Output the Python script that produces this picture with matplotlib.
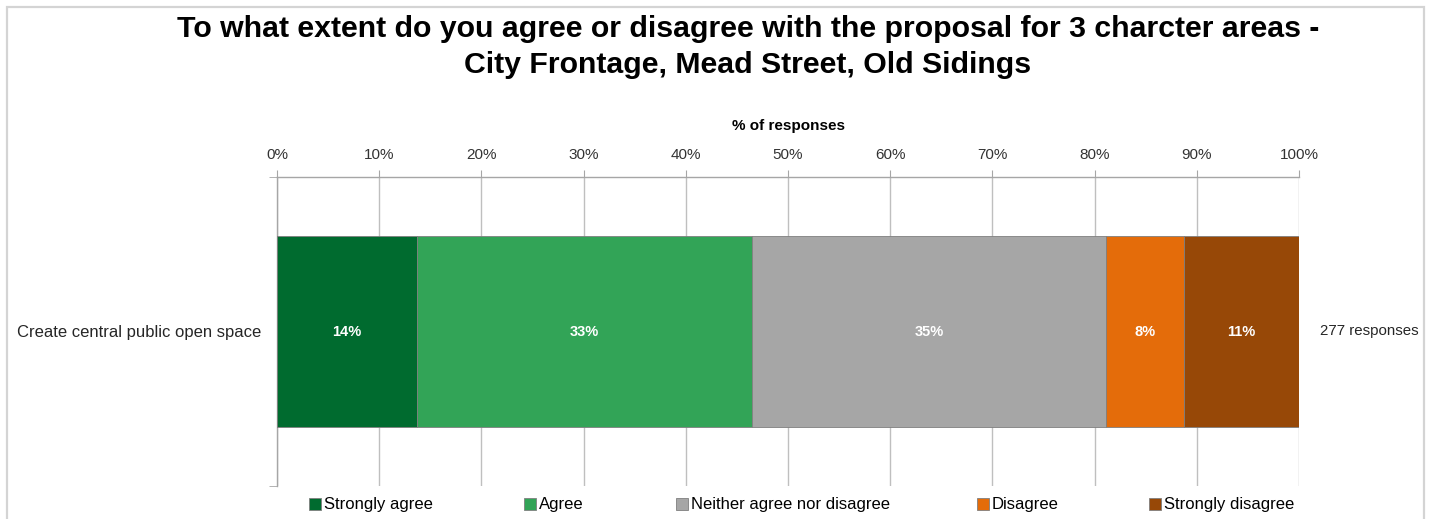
import matplotlib
matplotlib.use("Agg")
import matplotlib.pyplot as plt
from matplotlib.patches import Rectangle
from matplotlib.ticker import FixedLocator

plt.rcParams['font.family'] = ['Liberation Sans', 'DejaVu Sans']

# Survey data
category = "Create central public open space"
responses_note = "277 responses"
levels = ["Strongly agree", "Agree", "Neither agree nor disagree", "Disagree", "Strongly disagree"]
shares = [13.7, 32.8, 34.6, 7.6, 11.3]
colors = ["#006B2F", "#32A457", "#A6A6A6", "#E46C0A", "#974807"]
x_ticks = [0, 10, 20, 30, 40, 50, 60, 70, 80, 90, 100]
title_lines = ["To what extent do you agree or disagree with the proposal for 3 charcter areas -",
               "City Frontage, Mead Street, Old Sidings"]

W, H = 1431, 519
fig = plt.figure(figsize=(W / 100, H / 100), dpi=100)

# outer chart frame
fig.patches.append(Rectangle((7 / W, -0.1), 1417 / W, 1.1 - 7 / H, transform=fig.transFigure,
                             fill=False, edgecolor="#D4D4D4", linewidth=1.6))

ax = fig.add_axes([277 / W, 1 - 486 / H, 1022 / W, 309 / H])

left = 0
handles = []
for lvl, val, col in zip(levels, shares, colors):
    bars = ax.barh(0, val, left=left, height=0.615, color=col, edgecolor="#7F7F7F",
                   linewidth=0.6, label=lvl, zorder=3)
    handles.append(bars)
    ax.text(left + val / 2, 0, f"{val:.0f}%", ha="center", va="center",
            color="white", fontsize=10.5, fontweight="bold", zorder=4)
    left += val

ax.set_xlim(0, 100)
ax.set_ylim(-0.5, 0.5)
ax.invert_yaxis()

ax.xaxis.set_ticks_position("top")
ax.xaxis.set_label_position("top")
ax.set_xticks(x_ticks)
ax.set_xticklabels([f"{t}%" for t in x_ticks], fontsize=11, color="#333333")
ax.tick_params(axis="x", direction="out", length=5, color="#A6A6A6", pad=6)
ax.set_xlabel("% of responses", fontsize=11, fontweight="bold", labelpad=13)

ax.set_yticks([0])
ax.set_yticklabels([category], fontsize=12, color="#262626")
ax.tick_params(axis="y", which="major", length=0, pad=11)
ax.yaxis.set_minor_locator(FixedLocator([-0.5, 0.5]))
ax.tick_params(axis="y", which="minor", direction="out", length=6, color="#A6A6A6")

ax.grid(axis="x", color="#BFBFBF", linewidth=1, zorder=0)
for side in ["bottom", "right"]:
    ax.spines[side].set_visible(False)
for side in ["top", "left"]:
    ax.spines[side].set_color("#A6A6A6")
    ax.spines[side].set_linewidth(1)

ax.text(1 + 21 / 1022, 0, responses_note, transform=ax.get_yaxis_transform(),
        ha="left", va="center", fontsize=10.8, color="#262626")

# two-line title
for line, base in zip(title_lines, [37, 73]):
    fig.text(748 / W, 1 - base / H, line, ha="center", va="baseline",
             fontsize=21.8, fontweight="bold")

# legend entries laid out along the bottom of the chart
legend_x = [309, 524, 676, 977, 1149]
for h, lvl, lx in zip(handles, levels, legend_x):
    fig.legend([h], [lvl], loc="center left", bbox_to_anchor=(lx / W, 1 - 505 / H),
               frameon=False, fontsize=12, handlelength=0.7, handleheight=0.7,
               handletextpad=0.2, borderaxespad=0, borderpad=0)

fig.savefig("out.png", dpi=100)
